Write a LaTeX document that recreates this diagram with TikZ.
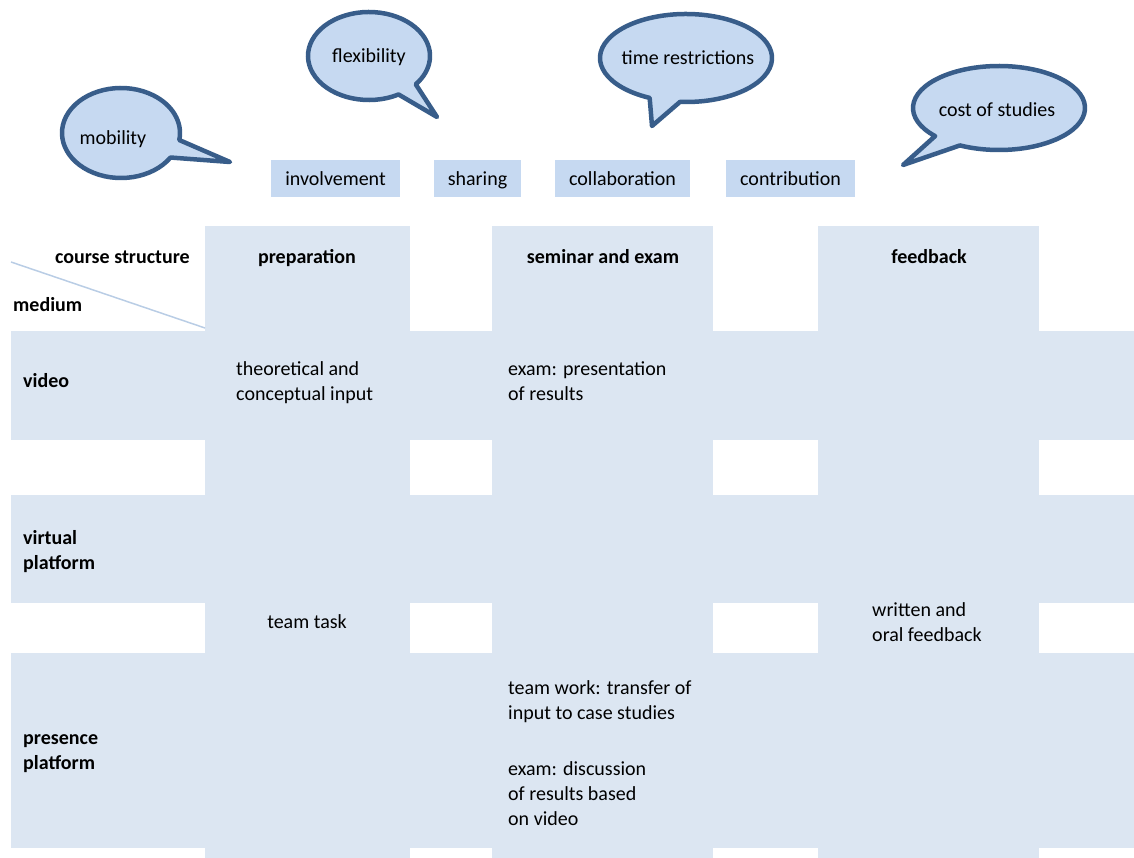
\documentclass[tikz,border=0pt]{standalone}
\usepackage{fontspec}
\setmainfont{Carlito}
\usepackage{tikz}
\usetikzlibrary{positioning}

\definecolor{cellblue}{HTML}{DCE6F2}
\definecolor{keyblue}{HTML}{C6D9F1}
\definecolor{edgeblue}{HTML}{385D8A}
\definecolor{lineblue}{HTML}{B9CDE5}

\begin{document}
\begin{tikzpicture}[
            x=1pt, y=-1pt,
            font=\fontsize{20}{25}\selectfont,
            cell/.style={fill=cellblue},
            keybox/.style={fill=keyblue, inner sep=0pt, minimum height=37pt, text height=16pt, text depth=2pt},
            bubble/.style={fill=keyblue, draw=edgeblue, line width=4.5pt, line join=round},
            head/.style={font=\fontsize{20}{25}\selectfont\bfseries, text height=16pt, text depth=2pt},
            rowlab/.style={font=\fontsize{20}{25}\selectfont\bfseries, anchor=west, align=left, inner sep=0pt},
            entry/.style={anchor=west, align=left, inner sep=0pt}
        ]
            \useasboundingbox (0,0) rectangle (1134,858);

            % ====== Grid of columns and rows ======
            \fill[cell] (205,226) rectangle (410,858);
            \fill[cell] (492,226) rectangle (713,858);
            \fill[cell] (818,226) rectangle (1039,858);
            \fill[cell] (11,331) rectangle (1134,440);
            \fill[cell] (11,495) rectangle (1134,603);
            \fill[cell] (11,653) rectangle (1134,848);

            \draw[lineblue, line width=1.5pt] (11,262) -- (205,328);

            % ====== Header labels ======
            \node[head, anchor=east, inner sep=0pt] (structure) at (190,257) {course structure};
            \node[rowlab] (medium) at (13,305) {medium};
            \node[head] (prep) at (307,257) {preparation};
            \node[head] (seminar) at (603,257) {seminar and exam};
            \node[head] (feedback) at (929,257) {feedback};

            \node[rowlab] (video) at (23,381) {video};
            \node[rowlab] (virtual) at (23,552) {virtual\\platform};
            \node[rowlab] (presence) at (23,754) {presence\\platform};

            % ====== Cell contents ======
            \node[entry] (input) at (236,383) {theoretical and\\conceptual input};
            \node[entry] (present) at (508,381) {exam: presentation\\of results};
            \node (task) at (307,622) {team task};
            \node[entry] (written) at (872,622) {written and\\oral feedback};
            \node[entry] (teamwork) at (508,702) {team work: transfer of\\input to case studies};
            \node[entry] (discuss) at (508,794) {exam: discussion\\of results based\\on video};

            % ====== Keywords ======
            \node[keybox, minimum width=129pt] (involve) at (335.5,178.5) {involvement};
            \node[keybox, minimum width=87pt] (share) at (477.5,178.5) {sharing};
            \node[keybox, minimum width=135pt] (collab) at (622.5,178.5) {collaboration};
            \node[keybox, minimum width=129pt] (contrib) at (790.5,178.5) {contribution};

            % ====== Speech bubbles ======
            \draw[bubble] (121,133) ++(33:59 and 45)
                arc[start angle=33, end angle=369, x radius=59, y radius=45] -- (230,162) -- cycle;
            \node (mobility) at (113,139) {mobility};

            \draw[bubble] (369,56) ++(61:61 and 44)
                arc[start angle=61, end angle=400, x radius=61, y radius=44] -- (437,117) -- cycle;
            \node (flex) at (369,57) {flexibility};

            \draw[bubble] (686,58) ++(115:86 and 44)
                arc[start angle=115, end angle=454, x radius=86, y radius=44] -- (652,126) -- cycle;
            \node (time) at (688,58) {time restrictions};

            \draw[bubble] (999,108) ++(138:86 and 42)
                arc[start angle=138, end angle=477, x radius=86, y radius=42] -- (903,165) -- cycle;
            \node (cost) at (997,110) {cost of studies};
        \end{tikzpicture}
\end{document}
